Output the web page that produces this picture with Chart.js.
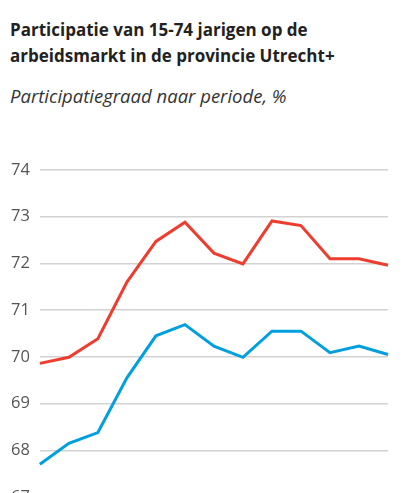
<!DOCTYPE html>
<html>
<head>
<meta charset="utf-8">
<script src="https://cdn.jsdelivr.net/npm/chart.js@4"></script>
<style>
  body { margin: 0; background: #fff; font-family: "Open Sans", sans-serif; overflow: hidden; }
  #title { position: absolute; left: 10px; top: 17px; font-size: 17px; font-weight: 700; line-height: 26px; color: #222; }
  #subtitle { position: absolute; left: 10px; top: 83px; font-size: 18.5px; font-style: italic; line-height: 26px; color: #333; }
  #wrap { position: absolute; left: 0; top: 140px; width: 411px; height: 380px; }
</style>
</head>
<body>
<div id="title">Participatie van 15-74 jarigen op de<br>arbeidsmarkt in de provincie Utrecht+</div>
<div id="subtitle">Participatiegraad naar periode, %</div>
<div id="wrap"><canvas id="chart"></canvas></div>
<script>
// periodes (as labels staan buiten beeld)
const periods = ['1', '2', '3', '4', '5', '6', '7', '8', '9', '10', '11', '12', '13'];
const redSeries = [69.86, 69.99, 70.39, 71.6, 72.47, 72.88, 72.22, 71.99, 72.91, 72.81, 72.1, 72.1, 71.96];
const blueSeries = [67.7, 68.15, 68.38, 69.55, 70.45, 70.69, 70.23, 69.99, 70.55, 70.55, 70.09, 70.23, 70.05];
const yTicks = [67, 68, 69, 70, 71, 72, 73, 74];

const data = {
    labels: periods,
    datasets: [{
        label: 'Reeks 1',
        data: redSeries,
        borderColor: 'rgb(238, 60, 46)',
        borderWidth: 3,
        pointRadius: 0,
        tension: 0
    }, {
        label: 'Reeks 2',
        data: blueSeries,
        borderColor: 'rgb(0, 160, 223)',
        borderWidth: 3,
        pointRadius: 0,
        tension: 0
    }]
};

new Chart(document.getElementById('chart'), {
    type: 'line',
    data: data,
    options: {
        responsive: true,
        maintainAspectRatio: false,
        animation: false,
        layout: { padding: { left: 1, right: 23, top: 30, bottom: 23 } },
        plugins: { legend: { display: false }, tooltip: { enabled: false } },
        scales: {
            x: {
                display: false,
                offset: false
            },
            y: {
                min: yTicks[0],
                max: yTicks[yTicks.length - 1],
                afterBuildTicks: (axis) => { axis.ticks = yTicks.map(v => ({ value: v })); },
                border: { display: false },
                grid: { color: '#d2d2d2', lineWidth: 1.5, drawTicks: false },
                ticks: {
                    padding: 10,
                    color: '#555',
                    font: { family: 'Open Sans', size: 16.5 }
                }
            }
        }
    }
});
</script>
</body>
</html>
